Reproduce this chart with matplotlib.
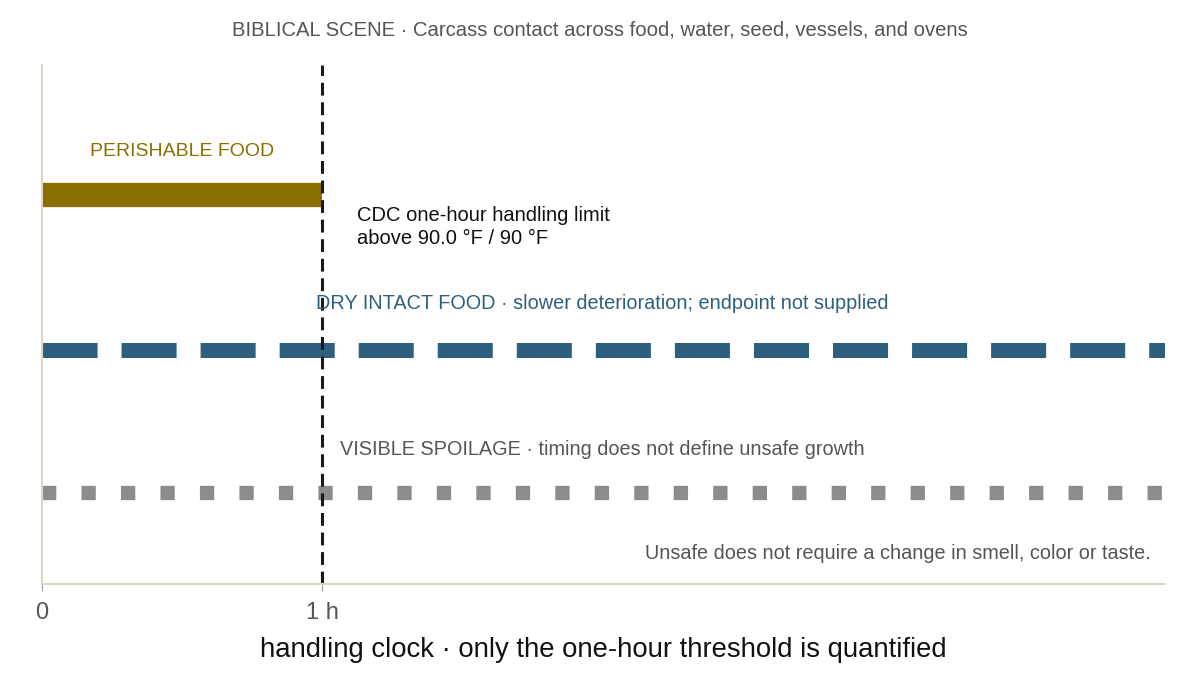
import matplotlib
matplotlib.use("Agg")
import matplotlib.pyplot as plt

# chart data
title = "BIBLICAL SCENE · Carcass contact across food, water, seed, vessels, and ovens"
x_ticks = [0, 1]
x_tick_labels = ["0", "1 h"]
x_label = "handling clock · only the one-hour threshold is quantified"
x_max = 4.01

row_names = ["PERISHABLE FOOD",
             "DRY INTACT FOOD · slower deterioration; endpoint not supplied",
             "VISIBLE SPOILAGE · timing does not define unsafe growth"]
row_y = [0.75, 0.45, 0.175]
row_start = [0, 0, 0]
row_end = [1, x_max, x_max]
row_colors = ["#8b6e00", "#2f5f7f", "#8c8c8c"]

threshold_x = 1
threshold_text = "CDC one-hour handling limit\nabove 90.0 °F / 90 °F"
footnote = "Unsafe does not require a change in smell, color or taste."

plt.rcParams["font.family"] = ["Liberation Sans", "DejaVu Sans"]

fig = plt.figure(figsize=(12, 6.95), dpi=100)
ax = fig.add_axes([42 / 1200, 1 - 584 / 695, (1165 - 42) / 1200, (584 - 65) / 695])
ax.set_xlim(0, x_max)
ax.set_ylim(0, 1)

# perishable: solid bar
ax.plot([row_start[0], row_end[0]], [row_y[0]] * 2, color=row_colors[0],
        lw=17.5, solid_capstyle="butt")
# dry: long dashes
ax.plot([row_start[1], row_end[1]], [row_y[1]] * 2, color=row_colors[1],
        lw=10.8, dashes=(3.67, 1.6), dash_capstyle="butt")
# spoilage: square dots
ax.plot([row_start[2], row_end[2]], [row_y[2]] * 2, color=row_colors[2],
        lw=10.3, dashes=(1.0, 1.76), dash_capstyle="butt")

ax.axvline(threshold_x, color="#1a1a1a", lw=2.2, ls="--", dashes=(4.2, 2.2))

ax.text(0.5, 0.834, row_names[0], color=row_colors[0], fontsize=14,
        ha="center", va="center")
ax.text(1.125, 0.688, threshold_text, color="#111111", fontsize=14.5,
        ha="left", va="center", linespacing=1.3)
ax.text(2.0, 0.541, row_names[1], color=row_colors[1], fontsize=14.3,
        ha="center", va="center")
ax.text(2.0, 0.26, row_names[2], color="#555555", fontsize=14.3,
        ha="center", va="center")
ax.text(3.96, 0.059, footnote, color="#555555", fontsize=14.3,
        ha="right", va="center")

ax.set_xticks(x_ticks)
ax.set_xticklabels(x_tick_labels)
ax.set_yticks([])
ax.tick_params(axis="x", length=5, color="#999999", labelsize=17,
               labelcolor="#555555", pad=8)
ax.set_xlabel(x_label, fontsize=19.8, color="#111111", labelpad=9)

for s in ["top", "right"]:
    ax.spines[s].set_visible(False)
for s in ["left", "bottom"]:
    ax.spines[s].set_color("#ddd5c6")
    ax.spines[s].set_linewidth(1.5)

fig.text(0.5, 1 - 30 / 695, title, color="#555555", fontsize=14.6,
         ha="center", va="center")

fig.savefig("out.png", dpi=100)
